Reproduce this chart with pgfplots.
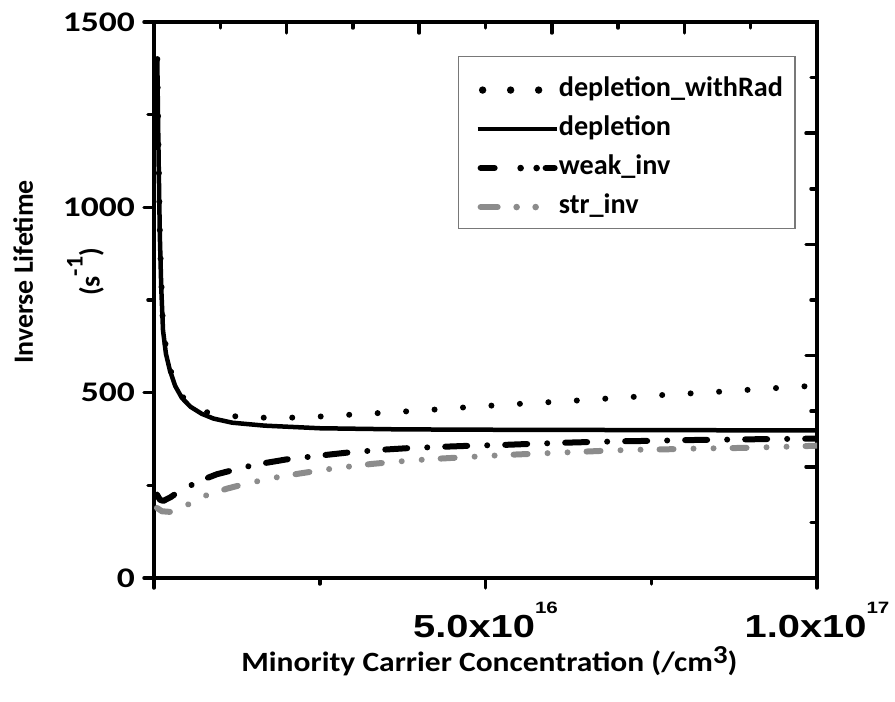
\documentclass[border=0pt]{standalone}
\usepackage{fontspec}
\setmainfont{Carlito}
\newfontfamily\arialb{Liberation Sans}
\usepackage{pgfplots}
\pgfplotsset{compat=1.18}
\definecolor{strgray}{RGB}{140,140,140}
\definecolor{leggray}{RGB}{120,120,120}
\newcommand{\xtl}[2]{\scalebox{1.25}[1]{\arialb\bfseries\fontsize{32}{32}\selectfont #1\raisebox{24bp}{\fontsize{16.5}{16.5}\selectfont #2}}}
\newcommand{\ytl}[1]{\scalebox{1.25}[1]{\bfseries\fontsize{28.5}{28.5}\selectfont #1}}
\begin{document}
\begin{tikzpicture}
\begin{axis}[
  name=main,
  scale only axis, width=663bp, height=556bp,
  xmin=0, xmax=10, ymin=0, ymax=1500,
  axis line style={line width=4bp},
  xtick={0,5,10}, xticklabels={,\xtl{5.0x10}{16},\xtl{1.0x10}{17}},
  minor xtick={2.5,7.5},
  ytick={0,500,1000,1500}, yticklabels={\ytl{0},\ytl{500},\ytl{1000},\ytl{1500}},
  minor ytick={250,750,1250},
  xtick pos=bottom, ytick pos=left,
  tick align=outside,
  major tick length=10bp, minor tick length=6bp,
  tick style={black, line width=3.5bp, line cap=round},
  xticklabel style={anchor=north, inner sep=0pt, yshift=-14bp},
  yticklabel style={anchor=east, inner sep=0pt, xshift=-9bp},
  xlabel={\scalebox{1.13}[1]{Minority Carrier Concentration (/cm\raisebox{8bp}{\fontsize{26}{26}\selectfont 3})}},
  xlabel style={at={(axis description cs:0.506,-0.169)}, anchor=base, inner sep=0pt,
    font=\bfseries\fontsize{28}{32}\selectfont},
  ylabel={Inverse Lifetime\\[33bp](s\raisebox{17bp}{\fontsize{24}{24}\selectfont -1})},
  ylabel style={at={(axis description cs:-0.2127,0.5504)}, anchor=north, inner sep=0pt,
    align=center, font=\bfseries\fontsize{28}{34}\selectfont},
  legend style={at={(0.4585,0.939)}, anchor=north west, draw=leggray, line width=1.3bp,
    inner xsep=12bp, inner ysep=10bp, row sep=4bp, column sep=0bp,
    nodes={inner sep=0pt, text height=30bp, text depth=5bp, font=\bfseries\fontsize{28.3}{34}\selectfont}},
  legend cell align=left,
]
\addplot[black, line width=6bp, line cap=round, dash pattern=on 0.01bp off 28.5bp,
  legend image code/.code={\path[draw=none] (0,-6bp) -- (87bp,-6bp);
    \path[draw=none, fill=black] (12bp,-6bp) circle (3.7bp) (40bp,-6bp) circle (3.7bp) (68bp,-6bp) circle (3.7bp);}]
coordinates {
(0.05,1400) (0.07,1132) (0.09,913) (0.136,670) (0.24,563) (0.42,490) (0.72,451) (0.89,443)
(1.34,434) (1.78,432) (2.2,433) (2.66,437) (3.08,442) (3.5,446) (3.94,451) (4.37,456)
(4.81,462) (5.26,467) (5.70,472) (6.14,476) (6.56,481) (7.0,486) (7.44,491) (7.87,496)
(8.31,500) (8.73,505) (9.17,510) (9.61,515) (10,519)};
\addlegendentry{depletion\_withRad}
\addplot[black, line width=4.5bp, line join=round,
  legend image code/.code={\path[draw=none] (0,-6bp) -- (87bp,-6bp);
    \draw[black, solid, line width=4.5bp] (7bp,-6bp) -- (86bp,-6bp);}]
coordinates {
(0.05,1397) (0.06,1250) (0.07,1130) (0.08,1010) (0.09,911) (0.11,780) (0.136,668) (0.18,605)
(0.24,560) (0.32,518) (0.42,486) (0.55,462) (0.72,443) (0.9,430) (1.18,419) (1.67,411)
(2.5,404) (3.7,401) (5,400) (7.5,399) (10,398)};
\addlegendentry{depletion}
\addplot[black, line width=6bp, line cap=round, line join=round, dash pattern=on 22bp off 20bp on 0.01bp off 18bp,
  legend image code/.code={\path[draw=none] (0,-6bp) -- (87bp,-6bp);
    \draw[black, solid, line width=6bp, line cap=round] (10bp,-6bp) -- (24bp,-6bp) (75bp,-6bp) -- (84bp,-6bp);
    \path[draw=none, fill=black] (50bp,-6bp) circle (3.3bp) (66bp,-6bp) circle (3.3bp);}]
coordinates {
(0.045,225) (0.09,211) (0.14,208) (0.25,218) (0.39,235) (0.69,262) (0.95,280) (1.34,298)
(1.57,307) (2.0,320) (2.54,331) (2.9,338) (3.44,346) (3.8,350) (4.35,354) (4.8,357)
(5.27,359) (5.7,362) (6.2,365) (6.6,367) (7.1,369) (7.5,370) (8.0,372) (8.5,373)
(8.9,374) (9.4,375) (10,376)};
\addlegendentry{weak\_inv}
\addplot[strgray, line width=6bp, line cap=round, line join=round, dash pattern=on 14bp off 20bp on 0.01bp off 20bp on 0.01bp off 19bp,
  legend image code/.code={\path[draw=none] (0,-6bp) -- (87bp,-6bp);
    \draw[strgray, solid, line width=6bp, line cap=round] (10bp,-6bp) -- (27bp,-6bp);
    \path[draw=none, fill=strgray] (46bp,-6bp) circle (3.3bp) (65bp,-6bp) circle (3.3bp);}]
coordinates {
(0.045,189) (0.12,180) (0.27,178) (0.57,203) (0.8,224) (1.1,241) (1.4,255) (1.8,270)
(2.2,282) (2.6,293) (3.05,303) (3.3,308) (3.8,316) (4.2,321) (4.5,324) (4.9,328)
(5.3,332) (5.7,335) (6.1,338) (6.5,341) (6.9,344) (7.3,346) (7.7,347) (8.1,349)
(8.5,350) (8.9,351) (9.3,353) (9.7,355) (10,357)};
\addlegendentry{str\_inv}
\coordinate (O) at (rel axis cs:0,0);
\end{axis}
\begin{axis}[
  scale only axis, width=663bp, height=556bp,
  xmin=0, xmax=10, ymin=0, ymax=1500,
  axis line style={draw=none},
  xtick={0,2,...,10}, minor xtick={1,3,...,9},
  ytick={0,300,...,1500}, minor ytick={150,450,...,1350},
  xtick pos=top, ytick pos=right, tick align=inside,
  xticklabels={}, yticklabels={},
  major tick length=11bp, minor tick length=6bp,
  tick style={black, line width=3.5bp, line cap=round},
]
\addplot[draw=none] coordinates {(0,0)};
\end{axis}
\pgfresetboundingbox
\path[use as bounding box] (O) ++(-154bp,-124bp) rectangle ++(895bp,702bp);
\end{tikzpicture}
\end{document}
